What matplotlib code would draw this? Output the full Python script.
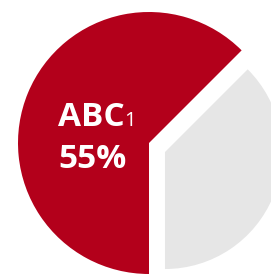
import matplotlib
matplotlib.use("Agg")
import matplotlib.pyplot as plt

# slice shares as drawn (angles), label texts as printed
sizes = [62.5, 37.5]
colors = ["#B3001B", "#E6E6E6"]
label_main = "ABC"
label_sub = "1"
label_pct = "55%"

fig = plt.figure(figsize=(2.71, 2.78), dpi=100)
ax = fig.add_axes([0, 0, 1, 1])
ax.axis("off")

wedges, _ = ax.pie(sizes, colors=colors, startangle=-90, counterclock=True,
                   radius=1.0, wedgeprops=dict(linewidth=0))

# red slice runs from the bottom round the left to 45 deg; gray is pulled out and smaller
wedges[0].set_theta1(45)
wedges[0].set_theta2(270)
wedges[1].set_theta1(-90)
wedges[1].set_theta2(45)
wedges[1].set_center((0.122, -0.069))
wedges[1].set_radius(0.893)

ax.set_xlim(-149 / 131, 122 / 131)
ax.set_ylim(-135 / 131, 143 / 131)
ax.set_aspect("auto")

font = "Open Sans"
ax.text(-0.695, 0.130, label_main, color="white", fontsize=24, fontweight="bold",
        family=font, ha="left", va="baseline")
ax.text(-0.192, 0.130, label_sub, color="white", fontsize=14.5,
        family=font, ha="left", va="baseline")
ax.text(-0.695, -0.191, label_pct, color="white", fontsize=24, fontweight="bold",
        family=font, ha="left", va="baseline")

fig.savefig("out.png", dpi=100)
